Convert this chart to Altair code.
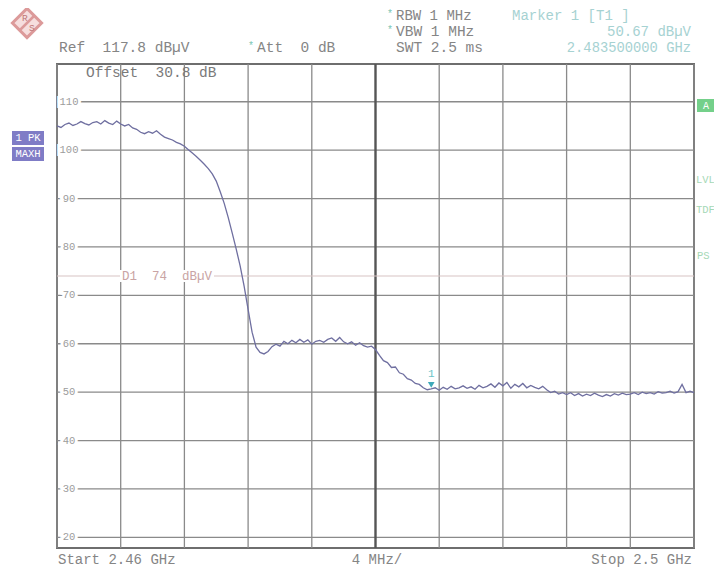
import altair as alt
import pandas as pd

# ---------------- data ----------------
freq_mhz = [
    2460.0, 2460.25, 2460.5, 2460.75, 2461.0, 2461.25, 2461.5, 2461.75,
    2462.0, 2462.25, 2462.5, 2462.75, 2463.0, 2463.25, 2463.5, 2463.75,
    2464.0, 2464.25, 2464.5, 2464.75, 2465.0, 2465.25, 2465.5, 2465.75,
    2466.0, 2466.25, 2466.5, 2466.75, 2467.0, 2467.25, 2467.5, 2467.75,
    2468.0, 2468.25, 2468.5, 2468.75, 2469.0, 2469.25, 2469.5, 2469.75,
    2470.0, 2470.25, 2470.5, 2470.75, 2471.0, 2471.25, 2471.5, 2471.75,
    2472.0, 2472.25, 2472.5, 2472.75, 2473.0, 2473.25, 2473.5, 2473.75,
    2474.0, 2474.25, 2474.5, 2474.75, 2475.0, 2475.25, 2475.5, 2475.75,
    2476.0, 2476.25, 2476.5, 2476.75, 2477.0, 2477.25, 2477.5, 2477.75,
    2478.0, 2478.25, 2478.5, 2478.75, 2479.0, 2479.25, 2479.5, 2479.75,
    2480.0, 2480.25, 2480.5, 2480.75, 2481.0, 2481.25, 2481.5, 2481.75,
    2482.0, 2482.25, 2482.5, 2482.75, 2483.0, 2483.25, 2483.5, 2483.75,
    2484.0, 2484.25, 2484.5, 2484.75, 2485.0, 2485.25, 2485.5, 2485.75,
    2486.0, 2486.25, 2486.5, 2486.75, 2487.0, 2487.25, 2487.5, 2487.75,
    2488.0, 2488.25, 2488.5, 2488.75, 2489.0, 2489.25, 2489.5, 2489.75,
    2490.0, 2490.25, 2490.5, 2490.75, 2491.0, 2491.25, 2491.5, 2491.75,
    2492.0, 2492.25, 2492.5, 2492.75, 2493.0, 2493.25, 2493.5, 2493.75,
    2494.0, 2494.25, 2494.5, 2494.75, 2495.0, 2495.25, 2495.5, 2495.75,
    2496.0, 2496.25, 2496.5, 2496.75, 2497.0, 2497.25, 2497.5, 2497.75,
    2498.0, 2498.25, 2498.5, 2498.75, 2499.0, 2499.25, 2499.5, 2499.75,
    2500.0,
]
level_dbuv = [
    105.0, 104.7, 105.3, 105.6, 105.1, 105.4, 105.9, 105.5,
    105.2, 105.7, 105.9, 105.4, 106.1, 105.6, 105.3, 106.0,
    105.4, 105.0, 105.3, 104.6, 104.3, 103.7, 103.4, 103.8,
    103.5, 104.0, 103.3, 102.7, 102.4, 102.1, 101.6, 101.3,
    100.8, 100.1, 99.4, 98.7, 97.9, 97.1, 96.2, 95.1,
    93.6, 91.4, 89.0, 86.1, 82.9, 79.6, 76.1, 71.9,
    67.1, 62.4, 59.3, 58.2, 57.9, 58.4, 59.4, 59.9,
    59.5, 60.5, 60.0, 60.7, 60.2, 60.9, 60.3, 60.8,
    59.9, 60.5, 60.7, 60.3, 60.9, 61.2, 60.5, 61.3,
    60.4, 60.0, 60.4, 59.7, 60.2, 59.6, 59.3, 59.5,
    58.8, 57.6, 56.5, 56.1, 55.1, 55.2, 54.0, 53.7,
    52.8, 52.5, 51.8, 51.6, 50.9, 50.5, 50.67, 50.9,
    50.4, 51.0, 50.6, 51.2, 50.7, 50.9, 51.3, 50.8,
    51.1, 50.6, 51.4, 50.9, 51.2, 51.7, 51.0, 51.9,
    51.3, 52.0, 50.8, 51.6, 51.1, 51.8, 50.9, 51.4,
    51.0, 50.7, 51.2, 50.5, 49.9, 50.2, 49.6, 49.9,
    49.5, 49.9, 49.3, 49.7, 49.2, 49.6, 49.3, 49.8,
    49.4, 49.1, 49.5, 49.2, 49.7, 49.4, 49.8, 49.5,
    49.6, 49.9, 49.5, 50.0, 49.7, 49.9, 49.6, 50.1,
    49.8, 49.9, 50.2, 49.8, 50.1, 51.6, 49.9, 50.2,
    49.9,
]
x_grid_mhz = [2460, 2464, 2468, 2472, 2476, 2484, 2488, 2492, 2496, 2500]
center_mhz = [2480]
y_grid_db = [20, 30, 40, 50, 60, 70, 80, 90, 100, 110]
y_tick_labels = ["20", "30", "40", "50", "60", "70", "80", "90", "100", "110"]
display_line_db = [74]
display_line_label = ["D1\u00a0\u00a074\u00a0\u00a0dB\u00b5V"]
marker_freq_mhz = [2483.5]
marker_level_dbuv = [50.67]

X_DOM = [2460, 2500]
Y_DOM = [17.8, 117.8]
W, H = 637, 484
LEFT, TOP = 57, 64  # plot origin on page (8px body margin included)
FONT = "Liberation Mono"
NB = "\u00a0"

xs = alt.Scale(domain=X_DOM, nice=False, zero=False)
ys = alt.Scale(domain=Y_DOM, nice=False, zero=False)

trace_df = pd.DataFrame({"f": freq_mhz, "L": level_dbuv})
vgrid_df = pd.DataFrame({"f": x_grid_mhz})
center_df = pd.DataFrame({"f": center_mhz})
hgrid_df = pd.DataFrame({"L": y_grid_db, "lab": y_tick_labels})
d1_df = pd.DataFrame({"L": display_line_db, "lab": display_line_label})
mk_df = pd.DataFrame({"f": marker_freq_mhz, "L": marker_level_dbuv})
one = pd.DataFrame({"k": [0]})

X = lambda: alt.X("f:Q", scale=xs, axis=None)
Y = lambda: alt.Y("L:Q", scale=ys, axis=None)

layers = []

# grid
layers.append(alt.Chart(vgrid_df).mark_rule(color="#8a8a8a", strokeWidth=1.3).encode(x=X()))
layers.append(alt.Chart(hgrid_df).mark_rule(color="#8a8a8a", strokeWidth=1.3).encode(y=Y()))
layers.append(alt.Chart(center_df).mark_rule(color="#555555", strokeWidth=2.4).encode(x=X()))

# display line D1
layers.append(alt.Chart(d1_df).mark_rule(color="#d8c4c4", strokeWidth=1.2).encode(y=Y()))
layers.append(alt.Chart(d1_df).mark_tick(orient="horizontal", size=94, thickness=12, color="white", opacity=1)
              .encode(x=alt.value(167 - LEFT), y=Y()))
layers.append(alt.Chart(d1_df).mark_text(font=FONT, fontSize=12.5, align="left", baseline="middle",
                                          color="#c9a4a4")
              .encode(x=alt.value(122 - LEFT), y=Y(), text="lab:N"))

# level labels inside the grid
layers.append(alt.Chart(hgrid_df).mark_text(font=FONT, fontSize=10.5, align="center", baseline="middle",
                                             color="white", stroke="white", strokeWidth=6)
              .encode(x=alt.value(69 - LEFT), y=Y(), text="lab:N"))
layers.append(alt.Chart(hgrid_df).mark_text(font=FONT, fontSize=10.5, align="center", baseline="middle",
                                             color="#9c9c9c")
              .encode(x=alt.value(69 - LEFT), y=Y(), text="lab:N"))

# trace
layers.append(alt.Chart(trace_df).mark_line(color="#6f6fa0", strokeWidth=1.3).encode(x=X(), y=Y()))

# marker
layers.append(alt.Chart(mk_df).mark_point(shape="triangle-down", filled=True, size=45, color="#3fa9b9",
                                           opacity=1, yOffset=-4).encode(x=X(), y=Y()))
layers.append(alt.Chart(mk_df).mark_text(font=FONT, fontSize=11, color="#6cc3c8", yOffset=-15,
                                          text="1").encode(x=X(), y=Y()))


def txt(s, px, py, color="#858585", size=14.5, align="left", baseline="middle"):
    return alt.Chart(one).mark_text(text=s, font=FONT, fontSize=size, color=color, align=align,
                                    baseline=baseline).encode(
        x=alt.value(px - LEFT), y=alt.value(py - TOP))


def box(x0, y0, x1, y1, color):
    return alt.Chart(one).mark_rect(color=color).encode(
        x=alt.value(x0 - LEFT), x2=alt.value(x1 - LEFT), y=alt.value(y0 - TOP), y2=alt.value(y1 - TOP))


TEAL = "#a6d2d2"
STAR = "#7cc7b4"

# header
layers += [
    txt("Ref" + NB * 2 + "117.8 dB\u00b5V", 59, 48),
    txt("*", 248, 46, STAR, 10),
    txt("Att" + NB * 2 + "0 dB", 257, 48),
    txt("*", 387, 14, STAR, 10),
    txt("RBW 1 MHz", 396, 16, size=14),
    txt("*", 387, 30, STAR, 10),
    txt("VBW 1 MHz", 396, 31.5),
    txt("SWT 2.5 ms", 396, 48),
    txt("Marker 1 [T1 ]", 512, 16, TEAL, 14),
    txt("50.67 dB\u00b5V", 691, 31.5, TEAL, 14, align="right"),
    txt("2.483500000 GHz", 691, 48, TEAL, 13.8, align="right"),
    txt("Offset" + NB * 2 + "30.8 dB", 86, 73, "#7a7a7a", 14.5),
]

# footer
layers += [
    txt("Start 2.46 GHz", 58, 560, size=14),
    txt("4 MHz/", 377, 560, size=14, align="center"),
    txt("Stop 2.5 GHz", 692, 560, size=14, align="right"),
]

# left trace-info boxes
layers += [
    box(12, 131, 44, 145, "#7f7cc6"),
    box(12, 147, 44, 161, "#7f7cc6"),
    txt("1 PK", 28, 138, "white", 10.5, align="center"),
    txt("MAXH", 28, 154, "white", 10.5, align="center"),
]

# right status annotations
layers += [
    box(697, 99, 718, 112, "#74d08a"),
    txt("A", 706, 105.5, "white", 10, align="center"),
    txt("LVL", 696, 180, "#a5d8b6", 10.5),
    txt("TDF", 696, 210, "#a5d8b6", 10.5),
    txt("PS", 697, 256, "#a5d8b6", 10.5),
]

# R&S logo
layers += [
    alt.Chart(one).mark_point(shape="diamond", filled=True, size=850, color="#f6dede", stroke="#dc9a9a",
                              strokeWidth=3, opacity=1).encode(x=alt.value(27 - LEFT), y=alt.value(23 - TOP)),
    alt.Chart(one).mark_rule(color="#dc9a9a", strokeWidth=2.5).encode(
        x=alt.value(34 - LEFT), x2=alt.value(20 - LEFT), y=alt.value(16 - TOP), y2=alt.value(30 - TOP)),
    txt("R", 22, 18, "#c07878", 9.5),
    txt("S", 29, 28, "#c07878", 9.5),
]

chart = alt.layer(*layers).properties(
    width=W, height=H,
    padding={"left": 49, "top": 56, "right": 20, "bottom": 22},
    autosize=alt.AutoSizeParams(type="none"),
    background="white",
).configure_view(stroke="#6e6e6e", strokeWidth=2)

chart.save("out.html", embed_options={"renderer": "svg", "actions": False})
